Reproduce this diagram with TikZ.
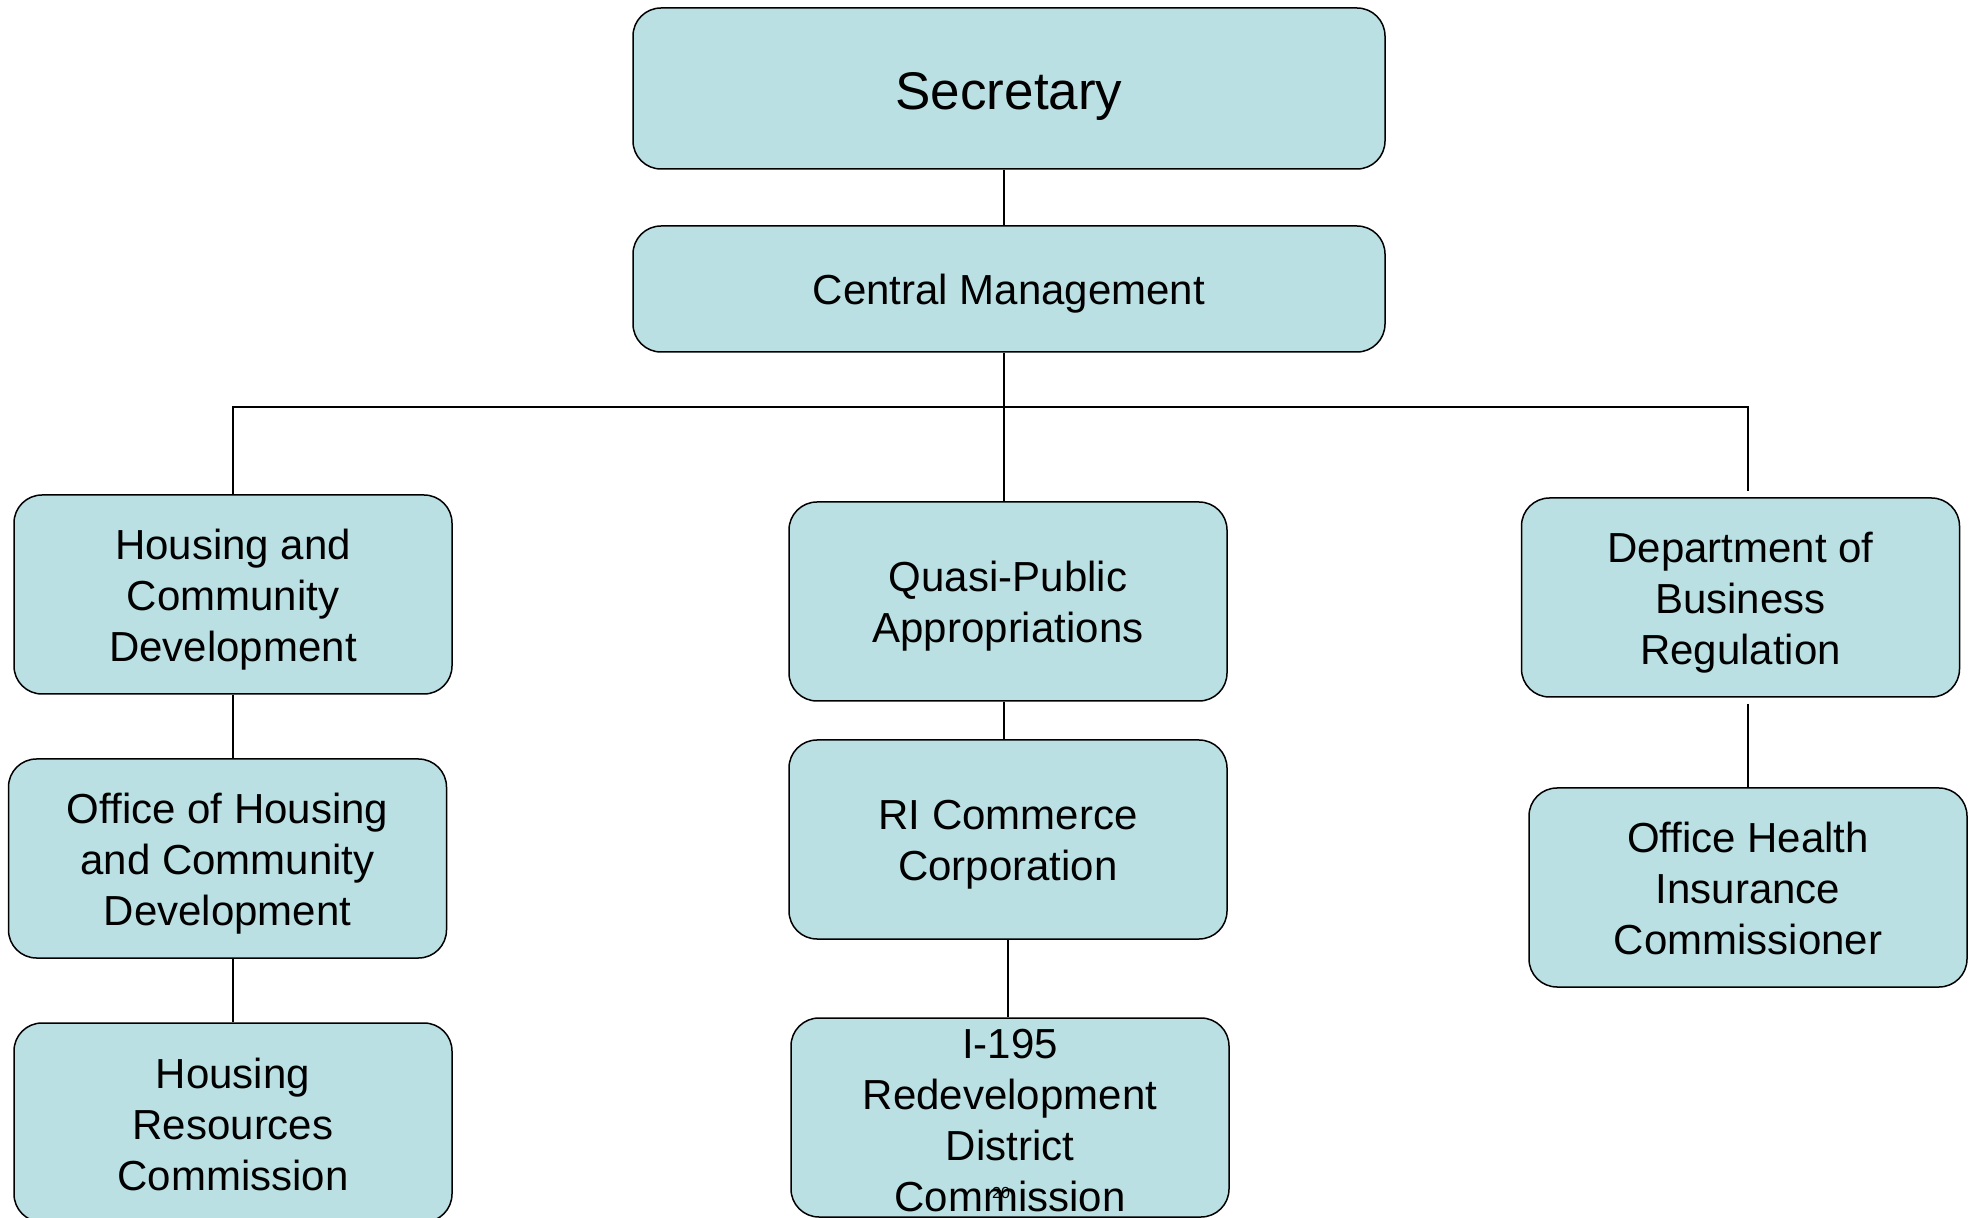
\documentclass[tikz,border=0pt]{standalone}
\usepackage{fontspec}
\setmainfont{Liberation Sans}
\definecolor{boxfill}{RGB}{186,224,227}
\begin{document}
\begin{tikzpicture}[x=0.5pt,y=-0.5pt,
  orgbox/.style={draw=black, line width=0.75pt, fill=boxfill, rounded corners=14pt,
    inner sep=0pt, minimum width=219pt, minimum height=99.5pt},
  boxtext/.style={align=center, inner sep=0pt, yshift=-2.5pt,
    font=\fontsize{21}{25.5}\selectfont},
  link/.style={draw=black, line width=0.75pt}]
\useasboundingbox (0,0) rectangle (1976,1218);
\fill[white] (0,0) rectangle (1976,1218);

\node[orgbox, minimum width=376pt, minimum height=80.5pt,
  label={[boxtext, yshift=-1.5pt, font=\fontsize{26.5}{30}\selectfont]center:Secretary}] (sec) at (1009,88.5) {};
\node[orgbox, minimum width=376pt, minimum height=63pt,
  label={[boxtext]center:Central Management}] (cm) at (1009,289) {};

\node[orgbox, label={[boxtext]center:{Housing and\\Community\\Development}}] (hcd) at (233,594.5) {};
\node[orgbox, label={[boxtext]center:{Quasi-Public\\Appropriations}}] (qpa) at (1008,601.5) {};
\node[orgbox, label={[boxtext]center:{Department of\\Business\\Regulation}}] (dbr) at (1740.5,597.5) {};

\node[orgbox, label={[boxtext]center:{Office of Housing\\and Community\\Development}}] (ohcd) at (227.5,858.5) {};
\node[orgbox, label={[boxtext]center:{RI Commerce\\Corporation}}] (ric) at (1008,839.5) {};
\node[orgbox, label={[boxtext, yshift=2pt]center:{Office Health\\Insurance\\Commissioner}}] (ohic) at (1748,887.5) {};

\node[orgbox, label={[boxtext, yshift=1.3pt]center:{Housing\\Resources\\Commission}}] (hrc) at (233,1122.5) {};
\node[orgbox, label={[boxtext, yshift=1pt]center:{I-195\\Redevelopment\\District\\Commission}}] (i195) at (1010,1117.5) {};

\node[inner sep=0pt, font=\fontsize{8}{9}\selectfont] (pg) at (1001,1193) {20};

\coordinate (bus) at (1004,407);
\coordinate (rstub) at (1748,491);

\draw[link] (sec.south -| bus) -- (cm.north -| bus);
\draw[link] (cm.south -| bus) -- (qpa.north -| bus);
\draw[link] (hcd.north) |- (bus) -| (rstub);
\draw[link] (hcd.south) -- (hcd.south |- ohcd.north);
\draw[link] (hrc.north |- ohcd.south) -- (hrc.north);
\draw[link] (qpa.south -| bus) -- (ric.north -| bus);
\draw[link] (ric.south) -- (ric.south |- i195.north);
\draw[link] ([yshift=-3pt]dbr.south -| rstub) -- (ohic.north);
\end{tikzpicture}
\end{document}
